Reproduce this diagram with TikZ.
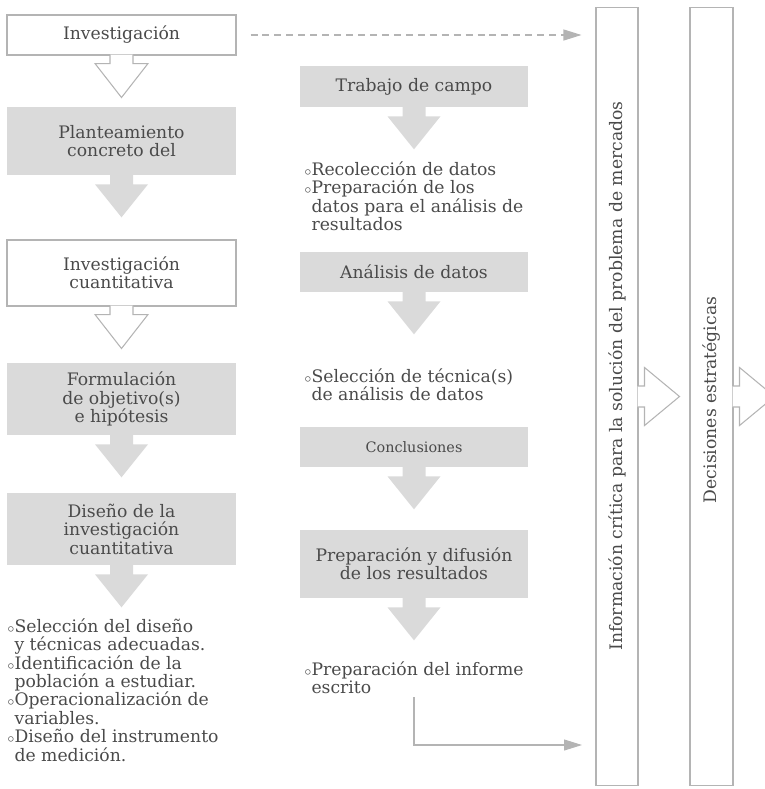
\documentclass[tikz,border=0pt]{standalone}
\usepackage{fontspec}
\setmainfont{DejaVu Serif}
\usepackage{tikz}
\usetikzlibrary{arrows.meta,positioning}
\definecolor{boxgray}{HTML}{DADADA}
\definecolor{linegray}{HTML}{B4B4B4}
\definecolor{txtgray}{HTML}{4A4A4A}
\newcommand{\bul}{{\scriptsize$\circ$}}
\newcommand{\sang}{\hphantom{\bul}}

\begin{document}
\begin{tikzpicture}[font=\fontsize{9.8}{10.5}\selectfont,text=txtgray,
  graybox/.style={fill=boxgray,minimum width=4.58cm,align=center,inner sep=0pt},
  whitebox/.style={draw=linegray,line width=0.6pt,fill=white,minimum width=4.58cm,align=center,inner sep=0pt},
  listtxt/.style={anchor=north west,align=left,inner sep=0pt},
  tallbox/.style={draw=linegray,line width=0.6pt,minimum width=0.84cm,minimum height=15.58cm,inner sep=0pt},
  hollowarr/.style={draw=linegray,line width=0.6pt,fill=white},
  solidarr/.style={fill=boxgray},
  conn/.style={draw=linegray,line width=0.6pt,-{Triangle[length=0.36cm,width=0.22cm]}}]
\begin{scope}[x=0.02cm,y=-0.02cm]
\useasboundingbox (0,0) rectangle (765,789);

% Left column: from the research idea to the design.
\node[whitebox,minimum height=0.8cm] (inv) at (121.5,35) {Investigación};
\node[graybox,minimum height=1.36cm] (plan) at (121.5,141) {Planteamiento\\concreto del};
\node[whitebox,minimum height=1.32cm] (cuant) at (121.5,273) {Investigación\\cuantitativa};
\node[graybox,minimum height=1.44cm] (form) at (121.5,399) {Formulación\\de objetivo(s)\\e hipótesis};
\node[graybox,minimum height=1.44cm] (diseno) at (121.5,529) {Diseño de la\\investigación\\cuantitativa};
\node[listtxt] (lista3) at (7,618) {\bul Selección del diseño\\\sang y técnicas adecuadas.\\\bul Identificación de la\\\sang población a estudiar.\\\bul Operacionalización de\\\sang variables.\\\bul Diseño del instrumento\\\sang de medición.};

% Middle column: field work and results.
\node[graybox,minimum height=0.82cm] (trabajo) at (414,86.5) {Trabajo de campo};
\node[listtxt] (lista1) at (304,161) {\bul Recolección de datos\\\bul Preparación de los\\\sang datos para el análisis de\\\sang resultados};
\node[graybox,minimum height=0.8cm] (analisis) at (414,272) {Análisis de datos};
\node[listtxt] (lista2) at (304,368) {\bul Selección de técnica(s)\\\sang de análisis de datos};
\node[graybox,minimum height=0.8cm,font=\fontsize{8.2}{9.5}\selectfont] (concl) at (414,447) {Conclusiones};
\node[graybox,minimum height=1.36cm] (difusion) at (414,564) {Preparación y difusión\\de los resultados};
\node[listtxt] (informe) at (304,661) {\bul Preparación del informe\\\sang escrito};

% Block arrows under the boxes
\foreach \n in {inv,cuant}{
  \draw[hollowarr] (\n.south) ++(-11.5,-1) -- ++(0,9) -- ++(-15,0) -- ++(26.5,34) -- ++(26.5,-34) -- ++(-15,0) -- ++(0,-9);
}
\foreach \n in {plan,form,diseno,trabajo,analisis,concl,difusion}{
  \fill[solidarr] (\n.south) ++(-11.5,-1) -- ++(0,10) -- ++(-15,0) -- ++(26.5,33) -- ++(26.5,-33) -- ++(-15,0) -- ++(0,-10) -- cycle;
}

% Right: the two tall boxes
\node[tallbox] (info) at (617,396.5) {};
\node[tallbox,minimum width=0.86cm] (decis) at (711.5,396.5) {};
\node[rotate=90] (infotxt) at (617,376) {Información crítica para la solución del problema de mercados};
\node[rotate=90] (dectxt) at (711.5,400) {Decisiones estratégicas};
\foreach \n in {info,decis}{
  \draw[hollowarr] (\n.east) ++(-1,-10.5) -- ++(7,0) -- ++(0,-18.5) -- ++(35,29) -- ++(-35,29) -- ++(0,-18.5) -- ++(-7,0);
}

% Connectors
\coordinate (fin) at (596,745);
\draw[conn,dash pattern=on 4pt off 2.8pt,shorten <=0.28cm,shorten >=0.28cm] (inv.east) -- (inv.east -| info.west);
\draw[conn,shorten >=0.28cm] ([yshift=-0.06cm]informe.south -| difusion.south) |- (fin);
\end{scope}
\end{tikzpicture}
\end{document}
